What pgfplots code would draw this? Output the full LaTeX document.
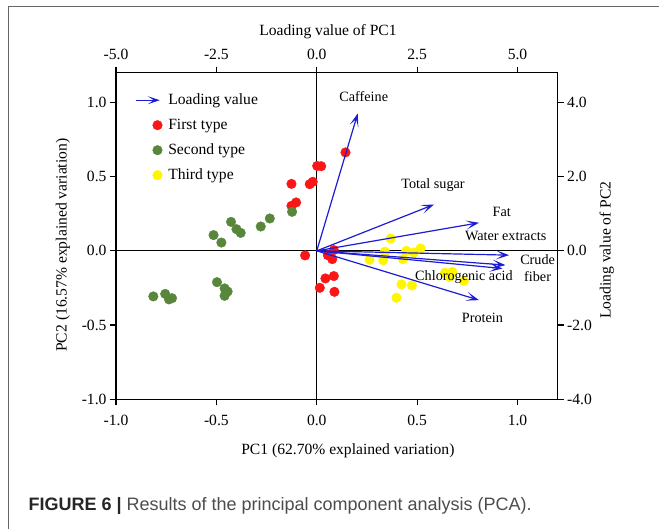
\documentclass[border=0pt]{standalone}
\usepackage{fontspec}
\setmainfont{Liberation Serif}
\newfontfamily\capfont{Liberation Sans}
\usepackage{pgfplots}
\usepackage{pgfplotstable}
\pgfplotsset{compat=1.18}
\usetikzlibrary{arrows.meta}
\definecolor{ptred}{RGB}{250,22,22}
\definecolor{ptgreen}{RGB}{88,135,60}
\definecolor{ptyellow}{RGB}{255,245,0}
\definecolor{arrblue}{RGB}{28,28,212}

\pgfplotsset{
  dotlegend/.style={legend image code/.code={%
    \pgfpathrectangle{\pgfpoint{0bp}{-5bp}}{\pgfpoint{26bp}{10bp}}\pgfusepath{discard}%
    \draw[##1] plot coordinates {(21.7bp,0bp)};}},
  arrowlegend/.style={legend image code/.code={%
    \pgfpathrectangle{\pgfpoint{0bp}{-5bp}}{\pgfpoint{26bp}{10bp}}\pgfusepath{discard}%
    \draw[arrblue, line width=1.2bp, -{Stealth[length=12bp,width=8bp,inset=6bp]}] (0bp,0bp) -- (24bp,0bp);}},
  loading/.style={arrblue, line width=1.2bp, no marks, -{Stealth[length=13bp,width=9bp,inset=7bp]}},
  pcaxis/.style={
    at={(0,0)}, anchor=south west,
    scale only axis, width=441.7bp, height=326.6bp,
    tick align=outside, major tick length=6bp,
    axis line style={line width=1.2bp},
    every tick/.style={black, line width=1.2bp},
    /pgf/number format/fixed, /pgf/number format/fixed zerofill,
    /pgf/number format/precision=1, /pgf/number format/assume math mode=true,
  },
}

% scores (PC1, PC2)
\pgfplotstableread{
x y
0.002 0.572
0.022 0.570
-0.126 0.451
-0.035 0.449
-0.020 0.465
-0.126 0.303
-0.103 0.326
-0.058 -0.031
0.143 0.663
0.085 0.005
0.055 -0.029
0.077 -0.056
0.043 -0.186
0.085 -0.170
0.015 -0.249
0.088 -0.276
}\firsttype
\pgfplotstableread{
x y
-0.427 0.195
-0.400 0.146
-0.379 0.121
-0.514 0.106
-0.475 0.056
-0.279 0.164
-0.234 0.218
-0.123 0.263
-0.497 -0.211
-0.459 -0.253
-0.444 -0.274
-0.459 -0.303
-0.814 -0.307
-0.755 -0.290
-0.736 -0.327
-0.721 -0.319
}\secondtype
\pgfplotstableread{
x y
0.368 0.083
0.339 -0.006
0.263 -0.060
0.331 -0.063
0.429 -0.056
0.446 0.000
0.484 -0.011
0.517 0.016
0.422 -0.226
0.474 -0.233
0.397 -0.316
0.638 -0.148
0.675 -0.141
0.733 -0.202
0.662 -0.175
}\thirdtype

\begin{document}
\begin{tikzpicture}[font=\fontsize{15.6bp}{18bp}\selectfont]
\useasboundingbox (-116bp,-129.7bp) rectangle (543bp,399.3bp);
\draw[line width=1.2bp, draw=black!60] (-107.7bp,-200bp) -- (-107.7bp,393bp) -- (600bp,393bp);
\node[anchor=west, font=\capfont\fontsize{18bp}{20bp}\selectfont, text=black!70] at (-91bp,-106.7bp)
  {\textcolor{black!85}{\textbf{FIGURE 6 |}} Results of the principal component analysis (PCA).};

% scores: bottom / left axes
\begin{axis}[pcaxis,
  xmin=-1, xmax=1.2, ymin=-1, ymax=1.2,
  xtick={-1,-0.5,0,0.5,1}, ytick={-1,-0.5,0,0.5,1},
  xtick pos=left, ytick pos=left,
  xticklabel style={yshift=-6bp},
  xlabel={PC1 (62.70\% explained variation)},
  ylabel={PC2 (16.57\% explained variation)},
  xlabel style={at={(axis description cs:0.525,-0.157)}, anchor=center},
  ylabel style={at={(axis description cs:-0.12,0.472)}, anchor=center},
  legend cell align=left,
  legend style={draw=none, fill=none, inner sep=0pt, at={(axis description cs:0.043,0.9386)},
    anchor=north west, row sep=10.5bp, column sep=6bp,
    nodes={inner sep=0pt, text height=12bp, text depth=2.5bp}},
]
\addlegendimage{arrowlegend}
\addlegendentry{Loading value}
\addplot[black, line width=1.2bp, forget plot] coordinates {(0,-1) (0,1.2)};
\addplot[black, line width=1.2bp, forget plot] coordinates {(-1,0) (1.2,0)};
\addplot[only marks, mark=*, ptred, mark size=4.8bp, dotlegend] table {\firsttype};
\addlegendentry{First type}
\addplot[only marks, mark=*, ptgreen, mark size=4.8bp, dotlegend] table {\secondtype};
\addlegendentry{Second type}
\addplot[only marks, mark=*, ptyellow, mark size=4.8bp, dotlegend] table {\thirdtype};
\addlegendentry{Third type}
\end{axis}

% loadings: top / right axes
\begin{axis}[pcaxis,
  xmin=-5, xmax=6, ymin=-4, ymax=4.8,
  xtick={-5,-2.5,0,2.5,5}, ytick={-4,-2,0,2,4},
  xtick pos=right, ytick pos=right, xticklabel pos=right, yticklabel pos=right,
  xticklabel style={yshift=3bp},
  xlabel={Loading value of PC1},
  ylabel={Loading value of PC2},
  xlabel style={at={(axis description cs:0.48,1.1255)}, anchor=center},
  ylabel style={at={(axis description cs:1.111,0.457)}, anchor=center},
  clip=false,
]
\addplot[loading] coordinates {(0,0) (1.02,3.70)};
\addplot[loading] coordinates {(0,0) (2.92,1.248)};
\addplot[loading] coordinates {(0,0) (4.04,0.756)};
\addplot[loading] coordinates {(0,0) (4.79,-0.116)};
\addplot[loading] coordinates {(0,0) (4.70,-0.384)};
\addplot[loading] coordinates {(0,0) (4.625,-0.476)};
\addplot[loading] coordinates {(0,0) (4.04,-1.328)};

\begin{scope}[every node/.style={font=\fontsize{14.2bp}{16.5bp}\selectfont}]
\node at (axis cs:1.17,4.148) {Caffeine};
\node at (axis cs:2.895,1.76) {Total sugar};
\node at (axis cs:4.605,1.044) {Fat};
\node at (axis cs:4.705,0.396) {Water extracts};
\node[align=center] at (axis cs:5.50,-0.462) {Crude\\[1bp]fiber};
\node at (axis cs:3.665,-0.716) {Chlorogenic acid};
\node at (axis cs:4.125,-1.796) {Protein};
\end{scope}
\end{axis}
\end{tikzpicture}
\end{document}
